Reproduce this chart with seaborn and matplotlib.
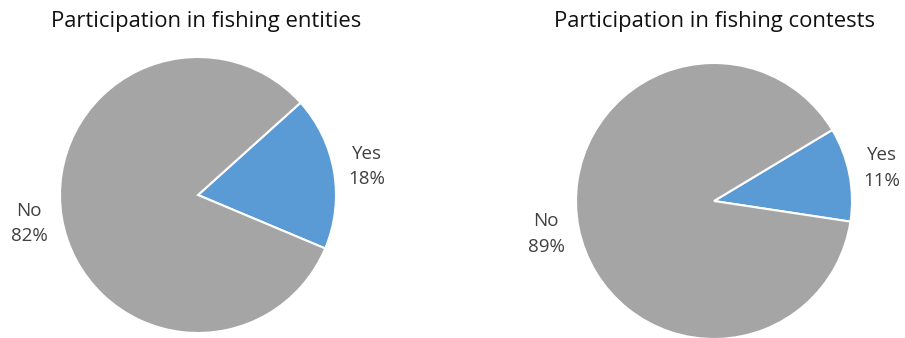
import matplotlib
matplotlib.use("Agg")
import matplotlib.pyplot as plt
import seaborn as sns

# chart data
titles = ['Participation in fishing entities', 'Participation in fishing contests']
categories = ['Yes', 'No']
entities_pct = [18, 82]
contests_pct = [11, 89]
start_angles = [42, 31]

sns.set_theme(style='white')
plt.rcParams['font.family'] = ['Open Sans', 'DejaVu Sans']

colors = ['#5B9BD5', '#A5A5A5']

fig = plt.figure(figsize=(9.05, 3.38), dpi=100)
W, H = 905, 338

# pie boxes in pixels: (left, bottom, size)
boxes = [(60, 5, 276), (576, -1, 276)]
title_x = [206, 714]

for i, values in enumerate([entities_pct, contests_pct]):
    left, bottom, size = boxes[i]
    ax = fig.add_axes([left / W, bottom / H, size / W, size / H])
    labels = [f'{c}\n{v}%' for c, v in zip(categories, values)]
    ax.pie(values, labels=labels, colors=colors, startangle=start_angles[i],
           counterclock=False, labeldistance=1.24,
           wedgeprops={'edgecolor': 'white', 'linewidth': 1.5},
           textprops={'ha': 'center', 'va': 'center', 'fontsize': 13.5,
                      'color': '#404040', 'linespacing': 1.55})
    ax.set_xlim(-1, 1)
    ax.set_ylim(-1, 1)
    fig.text(title_x[i] / W, 1 - 22 / H, titles[i], ha='center', va='center',
             fontsize=15.8, color='#111111')

fig.savefig('out.png', dpi=100)
